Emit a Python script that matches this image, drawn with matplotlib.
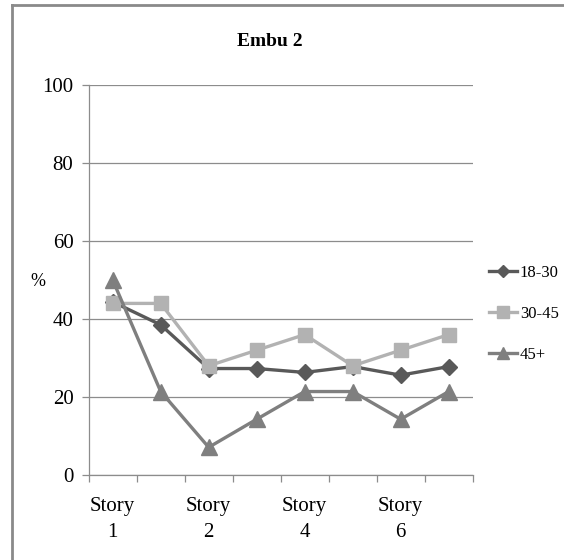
import matplotlib
matplotlib.use("Agg")
import matplotlib.pyplot as plt
from matplotlib.lines import Line2D
from matplotlib.ticker import FixedLocator

# Data
categories = ["Story\n1", "", "Story\n2", "", "Story\n4", "", "Story\n6", ""]
series_names = ["18-30", "30-45", "45+"]
age_18_30 = [44.4, 38.5, 27.3, 27.3, 26.3, 27.8, 25.6, 27.8]
age_30_45 = [44.0, 44.0, 28.0, 32.0, 36.0, 28.0, 32.0, 36.0]
age_45_plus = [50.0, 21.4, 7.1, 14.3, 21.4, 21.4, 14.3, 21.4]
y_ticks = [0, 20, 40, 60, 80, 100]

W, H, DPI = 564, 560, 100
fig = plt.figure(figsize=(W / DPI, H / DPI), dpi=DPI)
fig.patch.set_facecolor("white")

serif = ["Liberation Serif", "DejaVu Serif"]
plt.rcParams["font.family"] = serif

# outer chart border (left and top edges)
fig.add_artist(Line2D([12 / W, 12 / W], [0, 1 - 5 / H], transform=fig.transFigure,
                      color="#8a8a8a", lw=2.0))
fig.add_artist(Line2D([12 / W, 1], [1 - 5 / H, 1 - 5 / H], transform=fig.transFigure,
                      color="#8a8a8a", lw=2.0))

ax = fig.add_axes([88.7 / W, 85 / H, 384 / W, 390 / H])
x = list(range(len(categories)))

styles = [
    (age_18_30, "#595959", "D", 8),
    (age_30_45, "#b2b2b2", "s", 10),
    (age_45_plus, "#7f7f7f", "^", 11),
]
for (vals, col, mk, ms), name in zip(styles, series_names):
    ax.plot(x, vals, color=col, lw=2.4, marker=mk, markersize=ms,
            markeredgecolor=col, markerfacecolor=col, label=name, zorder=3)

ax.set_xlim(-0.5, len(categories) - 0.5)
ax.set_ylim(0, 100)

ax.yaxis.set_major_locator(FixedLocator(y_ticks))
ax.grid(axis="y", color="#8c8c8c", lw=0.9, zorder=0)
ax.set_axisbelow(True)

ax.set_xticks(x)
ax.set_xticklabels(categories, fontsize=15, linespacing=1.45)
ax.set_xticks([i - 0.5 for i in range(len(categories) + 1)], minor=True)
ax.tick_params(axis="x", which="major", length=0, pad=16)
ax.tick_params(axis="x", which="minor", length=5, width=0.9, color="#8c8c8c", direction="out")
ax.tick_params(axis="y", which="major", length=5, width=0.9, color="#8c8c8c",
               direction="out", labelsize=15, pad=6)

for s in ["top", "right"]:
    ax.spines[s].set_visible(False)
ax.spines["left"].set_color("#8c8c8c")
ax.spines["left"].set_linewidth(0.9)
ax.spines["bottom"].set_color("#8c8c8c")
ax.spines["bottom"].set_linewidth(0.9)

fig.text(270 / W, 1 - 42 / H, "Embu 2", ha="center", va="center",
         fontsize=14, fontweight="bold")
fig.text(38 / W, 1 - 282 / H, "%", ha="center", va="center", fontsize=13)

leg = fig.legend(loc="center left", bbox_to_anchor=(489 / W, 1 - 314 / H),
                 frameon=False, fontsize=12, handlelength=1.7, handletextpad=0.15,
                 labelspacing=1.5, markerscale=0.8, borderaxespad=0, borderpad=0)

fig.savefig("out.png", dpi=DPI)
